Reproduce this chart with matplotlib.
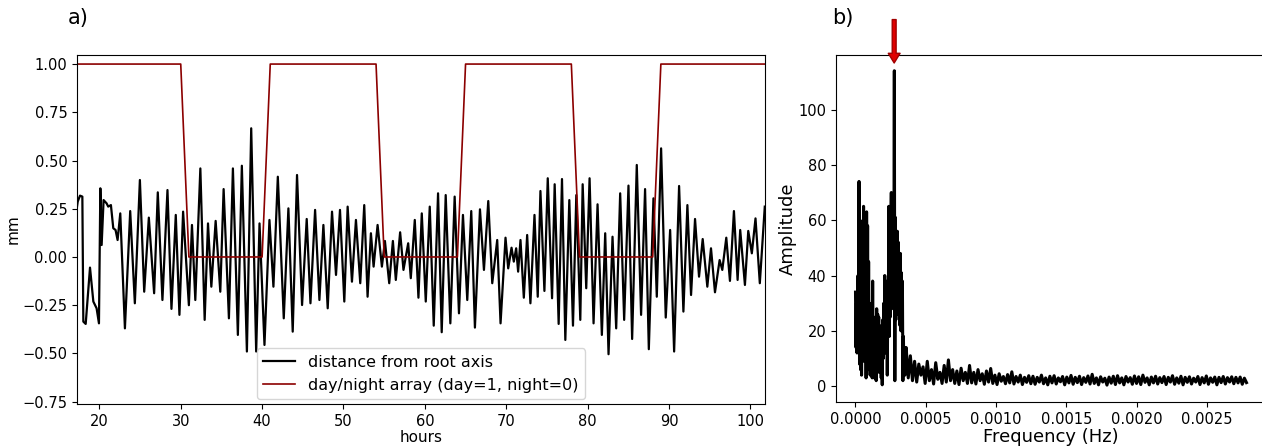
import numpy as np
import matplotlib.pyplot as plt

# --- a) root tip distance vs time (peaks/troughs read off the figure) ---
hours = [17.25, 17.34, 17.62, 17.91, 18.03, 18.32, 18.85, 19.26, 19.66, 19.95,
         20.12, 20.28, 20.52, 20.89, 21.09, 21.42, 21.71, 21.99, 22.24, 22.57,
         23.14, 23.79, 24.36, 24.98, 25.51, 26.08, 26.73, 27.18, 27.75, 28.37,
         28.86, 29.39, 29.84, 30.29, 31.0, 31.38, 31.79, 32.41, 32.94, 33.35,
         33.76, 34.29, 34.86, 35.27, 35.92, 36.41, 37.02, 37.51, 38.13, 38.66,
         39.27, 39.68, 40.29, 40.90, 41.39, 41.93, 42.66, 43.23, 43.76, 44.29,
         44.91, 45.48, 45.94, 46.51, 47.04, 47.53, 48.06, 48.59, 49.08, 49.57,
         50.10, 50.51, 51.04, 51.53, 52.06, 52.55, 52.96, 53.37, 53.70, 54.19,
         54.72, 55.09, 55.62, 56.07, 56.43, 56.96, 57.37, 57.95, 58.27, 58.76,
         59.21, 59.62, 60.11, 60.60, 61.09, 61.62, 62.07, 62.56, 63.13, 63.66,
         64.19, 64.68, 65.21, 65.70, 66.15, 66.77, 67.26, 67.79, 68.28, 68.89,
         69.30, 69.91, 70.24, 70.65, 70.93, 71.22, 71.46, 71.75, 72.16, 72.57,
         72.97, 73.47, 73.87, 74.20, 74.69, 75.10, 75.63, 75.95, 76.44, 76.85,
         77.26, 77.75, 78.20, 78.61, 79.10, 79.39, 79.83, 80.24, 80.73, 81.22,
         81.75, 82.16, 82.57, 83.06, 83.51, 84.00, 84.49, 85.02, 85.47, 86.04,
         86.57, 87.06, 87.52, 88.09, 88.50, 89.03, 89.60, 90.14, 90.63, 91.24,
         91.77, 92.26, 92.71, 93.20, 93.69, 94.14, 94.71, 95.16, 95.65, 96.22,
         96.55, 97.04, 97.49, 97.98, 98.43, 98.75, 99.33, 99.74, 100.18, 100.63,
         101.16, 101.77]
distance = [0.26, 0.287, 0.318, 0.313, -0.335, -0.347, -0.055, -0.231, -0.266, -0.344,
            0.356, 0.062, 0.295, 0.278, 0.261, 0.269, 0.149, 0.140, 0.088, 0.226,
            -0.37, 0.238, -0.24, 0.399, -0.18, 0.204, -0.188, 0.335, -0.223, 0.347,
            -0.269, 0.218, -0.30, 0.235, -0.25, 0.166, -0.223, 0.459, -0.326, 0.174,
            -0.154, 0.187, -0.18, 0.352, -0.318, 0.459, -0.404, 0.473, -0.49, 0.667,
            -0.49, 0.174, -0.456, 0.192, -0.154, 0.416, -0.318, 0.252, -0.387, 0.425,
            -0.249, 0.197, -0.24, 0.244, -0.223, 0.166, -0.266, 0.235, -0.093, 0.244,
            -0.231, 0.261, -0.128, 0.192, -0.136, 0.269, -0.206, 0.123, -0.05, 0.166,
            -0.05, 0.083, -0.136, 0.083, -0.119, 0.128, -0.067, 0.071, -0.11, 0.192,
            -0.211, 0.226, -0.231, 0.261, -0.356, 0.33, -0.39, 0.321, -0.344, 0.313,
            -0.292, 0.218, -0.223, 0.238, -0.366, 0.247, -0.067, 0.29, -0.136, 0.088,
            -0.344, 0.1, -0.059, 0.048, -0.024, 0.045, -0.076, 0.088, -0.211, 0.114,
            -0.24, 0.218, -0.206, 0.342, -0.176, 0.408, -0.214, 0.377, -0.347, 0.404,
            -0.43, 0.295, -0.356, 0.321, -0.326, 0.377, -0.162, 0.408, -0.344, 0.273,
            -0.404, 0.123, -0.504, 0.105, -0.37, 0.33, -0.326, 0.37, -0.425, 0.477,
            -0.30, 0.352, -0.478, 0.304, -0.206, 0.563, -0.314, 0.14, -0.49, 0.368,
            -0.283, 0.269, -0.197, 0.197, -0.102, 0.093, -0.154, 0.045, -0.183, -0.016,
            -0.067, 0.1, -0.124, 0.238, -0.119, 0.14, -0.145, 0.135, 0.019, 0.2,
            -0.136, 0.261]

# day/night switching times
dn_hours = [17.25, 30, 31, 40, 41, 54, 55, 64, 65, 78, 79, 88, 89, 101.77]
dn_state = [1, 1, 0, 0, 1, 1, 0, 0, 1, 1, 0, 0, 1, 1]

# --- b) amplitude spectrum ---
amp_low = [34, 14, 30, 12, 26, 40, 20, 74, 8, 60,
           6, 48, 4, 52, 10, 40, 65, 9, 59, 12,
           55, 3, 63, 12, 58, 6, 45, 10, 30, 4,
           22, 10, 25, 3, 38, 8, 25, 3, 18, 10,
           20, 2, 28, 8, 26, 12, 25, 5, 20, 9,
           15, 3, 22, 0.5, 24, 10, 30, 14, 40, 12,
           38, 20, 35, 4, 30, 22, 65, 18, 60, 25,
           55, 70, 28, 62, 30, 68, 35, 114, 2, 61,
           24, 50, 30, 56, 26, 52, 30, 45, 22, 48,
           20, 41, 24, 38, 2, 18, 6, 14, 4, 12]
amp_high = [14, 3, 11, 2, 9, 1.5, 8, 4, 7, 1,
            9, 2, 6, 0.8, 8.5, 2.5, 5, 1, 7.5, 1.5,
            9.5, 2, 6, 1, 5.5, 0.6, 6.5, 2, 5, 1,
            7.5, 1.2, 5, 0.8, 6, 2, 4.5, 0.7, 5.5, 1.5,
            6.4, 1, 4, 0.6, 4.5, 1.8, 3.5, 0.9, 4.2, 1.2,
            5.2, 0.8, 3.5, 1.5, 4, 0.6, 3.2, 1.4, 3.8, 0.9,
            3.6, 0.7, 3.2, 1.5, 4, 0.9, 3, 0.5, 3.6, 1.2,
            3.8, 0.8, 3, 1.6, 3.5, 0.5, 3.3, 1.2, 3.9, 0.7,
            3.2, 1.3, 3.6, 0.6, 3.1, 1.4, 3.7, 0.8, 4.3, 1,
            3, 0.5, 3.4, 1.5, 2.9, 0.4, 3.3, 1.1, 3.6, 0.6,
            3.8, 1.2, 3, 0.5, 3.5, 1.5, 3.1, 0.7, 3.7, 1,
            3.4, 0.6, 4, 1.4, 3, 0.5, 3.3, 1.2, 3.6, 0.8,
            3.1, 1.3, 3.5, 0.6, 3.2, 1.5, 3.8, 0.7, 3, 1.1,
            3.6, 0.5, 3.2, 1.4, 3.4, 0.8, 2.9, 1.5, 3.5, 0.6,
            3.1, 1.2, 3.7, 0.7, 3, 1.4, 3.3, 0.5, 3.2, 1.3,
            3.5, 0.8, 3.1, 1.5, 3.4, 0.9, 3.2, 1.2, 3.3, 0.7,
            2.9, 1.3]
freq = np.concatenate([np.linspace(0, 0.000355, len(amp_low)),
                       np.linspace(0.00036, 0.00278, len(amp_high))])
amp = np.array(amp_low + amp_high)
peak_freq = 0.000275

fig = plt.figure(figsize=(12.62, 4.46), dpi=100)

ax1 = fig.add_axes([0.0610, 0.0942, 0.5452, 0.7825])
ax1.plot(hours, distance, color='black', lw=1.6, label='distance from root axis')
ax1.plot(dn_hours, dn_state, color='darkred', lw=1.2, label='day/night array (day=1, night=0)')
ax1.set_xlim(17.25, 101.8)
ax1.set_ylim(-0.762, 1.047)
ax1.set_yticks([-0.75, -0.5, -0.25, 0, 0.25, 0.5, 0.75, 1.0])
ax1.set_xticks(range(20, 101, 10))
ax1.tick_params(labelsize=10.5)
ax1.set_xlabel('hours', fontsize=11, labelpad=1)
ax1.set_ylabel('mm', fontsize=11, labelpad=1)
ax1.legend(loc='lower center', fontsize=11.5, borderaxespad=0.3)
fig.text(0.054, 0.96, 'a)', fontsize=15, va='center')

ax2 = fig.add_axes([0.6624, 0.0987, 0.3408, 0.778])
ax2.plot(freq, amp, color='black', lw=2.2)
ax2.set_xlim(-0.000139, 0.002919)
ax2.set_ylim(-5.7, 119.7)
ax2.set_xticks([0, 0.0005, 0.001, 0.0015, 0.002, 0.0025])
ax2.set_xticklabels(['0.0000', '0.0005', '0.0010', '0.0015', '0.0020', '0.0025'])
ax2.tick_params(labelsize=10.5)
ax2.set_xlabel('Frequency (Hz)', fontsize=13, labelpad=1)
ax2.set_ylabel('Amplitude', fontsize=13, labelpad=1)
ax2.annotate('', xy=(peak_freq, 116.8), xytext=(peak_freq, 132.5),
             arrowprops=dict(facecolor='#e00000', edgecolor='#a00000',
                             width=2.8, headwidth=8.5, headlength=7),
             annotation_clip=False)
fig.text(0.659, 0.96, 'b)', fontsize=15, va='center')

fig.savefig('out.png', dpi=100)
